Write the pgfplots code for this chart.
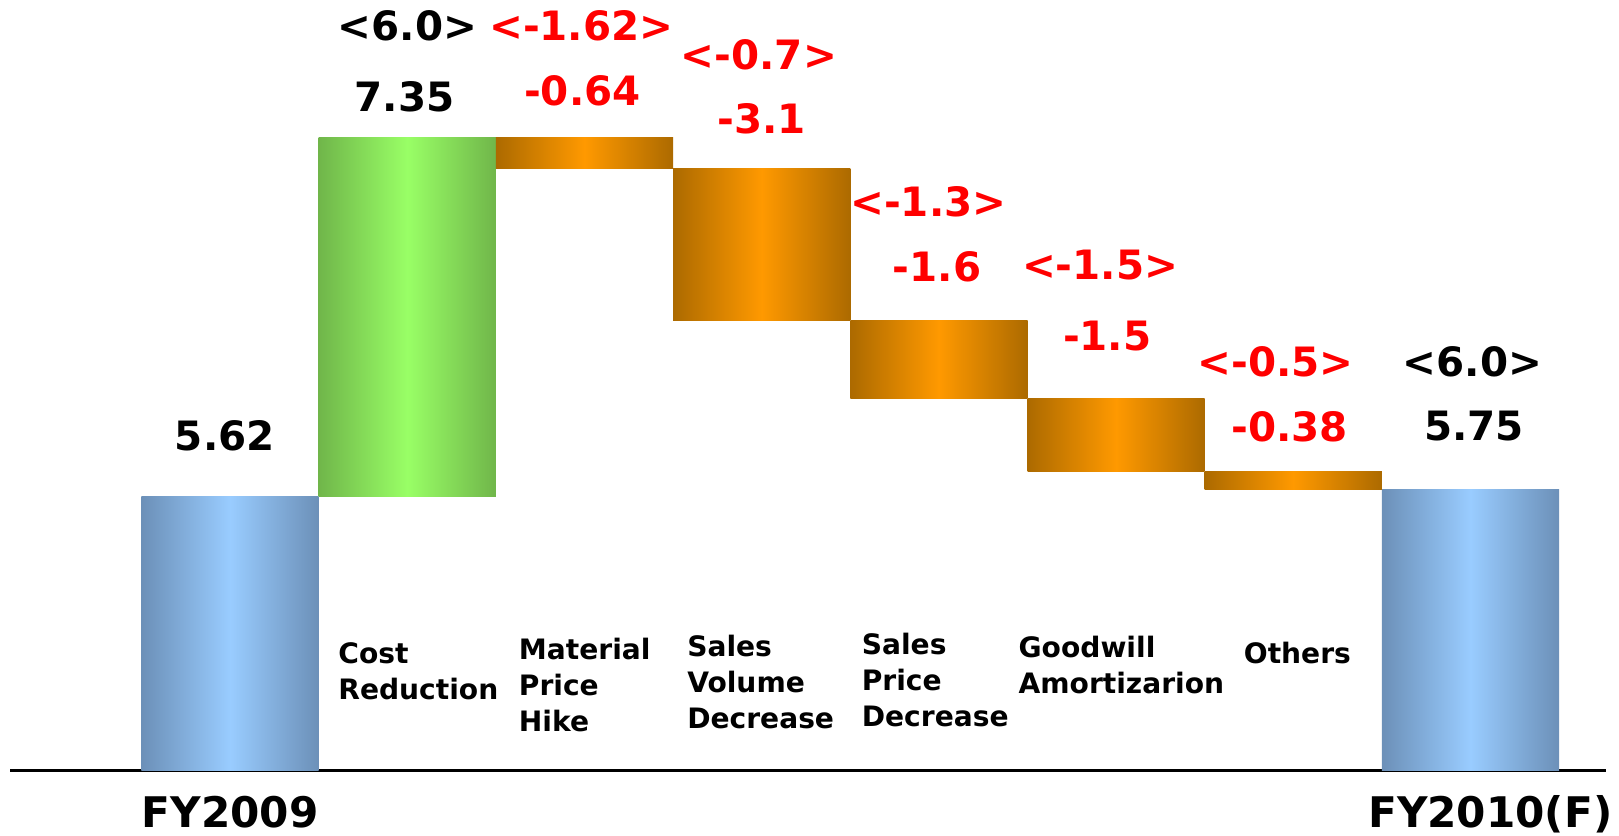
\documentclass[border=0pt]{standalone}
\usepackage{fontspec}
\setmainfont{DejaVu Sans}
\usepackage{pgfplots}
\pgfplotsset{compat=1.18}
\definecolor{blueE}{RGB}{108,144,184}
\definecolor{blueM}{RGB}{153,204,255}
\definecolor{greenE}{RGB}{112,182,74}
\definecolor{greenM}{RGB}{153,255,102}
\definecolor{orE}{RGB}{172,106,0}
\definecolor{orM}{RGB}{255,153,0}
\tikzset{
  val/.style={font=\bfseries\fontsize{11.5}{13}\selectfont, inner sep=0pt},
  cat/.style={anchor=base west, align=left, inner sep=0pt, font=\bfseries\fontsize{8}{10.2}\selectfont},
  fy/.style={font=\bfseries\fontsize{12}{14}\selectfont, inner sep=0pt},
  bluebar/.style={draw=none, left color=blueE, right color=blueE, middle color=blueM},
  greenbar/.style={draw=none, left color=greenE, right color=greenE, middle color=greenM},
  orbar/.style={draw=none, left color=orE, right color=orE, middle color=orM},
}
\begin{document}
\begin{tikzpicture}
\begin{axis}[
  width=16.19cm, height=8.35cm, scale only axis,
  xmin=-1.2985, xmax=7.838, ymin=-1.32, ymax=15.79,
  hide axis, clip=false,
]
\path (rel axis cs:0,0) coordinate (bl) (rel axis cs:1,1) coordinate (tr);
\addplot[black, line width=0.65pt] coordinates {(-1.242,0) (7.765,0)};
% start / end totals
\addplot[bluebar] coordinates {(-0.5,0) (0.5,0) (0.5,5.62) (-0.5,5.62)} -- cycle;
\addplot[bluebar] coordinates {(6.5,0) (7.5,0) (7.5,5.75) (6.5,5.75)} -- cycle;
% cost reduction +7.35 (5.62 -> 12.97)
\addplot[greenbar] coordinates {(0.5,5.62) (1.5,5.62) (1.5,12.97) (0.5,12.97)} -- cycle;
% decreases
\addplot[orbar] coordinates {(1.5,12.33) (2.5,12.33) (2.5,12.97) (1.5,12.97)} -- cycle;
\addplot[orbar] coordinates {(2.5,9.23) (3.5,9.23) (3.5,12.33) (2.5,12.33)} -- cycle;
\addplot[orbar] coordinates {(3.5,7.63) (4.5,7.63) (4.5,9.23) (3.5,9.23)} -- cycle;
\addplot[orbar] coordinates {(4.5,6.13) (5.5,6.13) (5.5,7.63) (4.5,7.63)} -- cycle;
\addplot[orbar] coordinates {(5.5,5.75) (6.5,5.75) (6.5,6.13) (5.5,6.13)} -- cycle;
% value labels
\node[val] at (axis cs:-0.03,6.85) {5.62};
\node[val] at (axis cs:1.0,15.26) {<6.0>};
\node[val] at (axis cs:0.985,13.80) {7.35};
\node[val, text=red] at (axis cs:1.982,15.26) {<-1.62>};
\node[val, text=red] at (axis cs:1.988,13.93) {-0.64};
\node[val, text=red] at (axis cs:2.984,14.67) {<-0.7>};
\node[val, text=red] at (axis cs:3.0,13.36) {-3.1};
\node[val, text=red] at (axis cs:3.94,11.66) {<-1.3>};
\node[val, text=red] at (axis cs:3.99,10.33) {-1.6};
\node[val, text=red] at (axis cs:4.91,10.35) {<-1.5>};
\node[val, text=red] at (axis cs:4.95,8.91) {-1.5};
\node[val, text=red] at (axis cs:5.90,8.38) {<-0.5>};
\node[val, text=red] at (axis cs:5.98,7.05) {-0.38};
\node[val] at (axis cs:7.01,8.38) {<6.0>};
\node[val] at (axis cs:7.02,7.05) {5.75};
% category labels (base anchor = baseline of last line)
\node[cat] at (axis cs:0.607,1.452) {Cost\\Reduction};
\node[cat] at (axis cs:1.626,0.799) {Material\\Price\\Hike};
\node[cat] at (axis cs:2.576,0.862) {Sales\\Volume\\Decrease};
\node[cat] at (axis cs:3.561,0.905) {Sales\\Price\\Decrease};
\node[cat] at (axis cs:4.446,1.58) {Goodwill\\Amortizarion};
\node[cat] at (axis cs:5.717,2.19) {Others};
% axis category names
\node[fy, anchor=base] at (axis cs:0.0,-1.16) {FY2009};
\node[fy, anchor=base east] at (axis cs:7.804,-1.16) {FY2010(F)};
\end{axis}
\pgfresetboundingbox
\path (bl) rectangle (tr);
\end{tikzpicture}
\end{document}
